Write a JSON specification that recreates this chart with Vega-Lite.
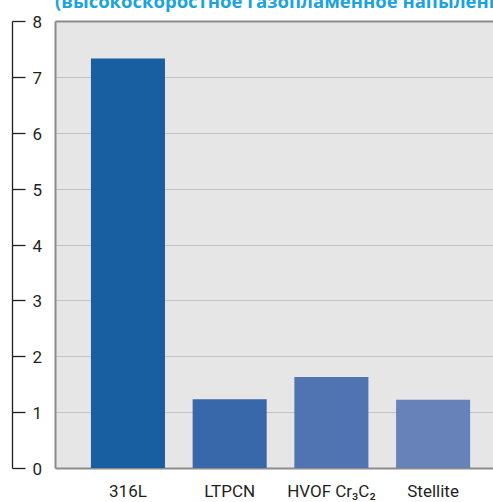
{
  "$schema": "https://vega.github.io/schema/vega-lite/v6.json",
  "width": 438,
  "height": 447,
  "autosize": {"type": "none"},
  "padding": {"left": 55, "top": 21, "right": 0, "bottom": 34},
  "background": "#ffffff",
  "title": {
    "text": "(высокоскоростное газопламенное напыление)",
    "anchor": "start",
    "frame": "group",
    "orient": "top",
    "font": "Open Sans",
    "fontSize": 18.5,
    "fontWeight": "bold",
    "color": "#1aa3dc",
    "baseline": "alphabetic",
    "offset": -12.5
  },
  "config": {
    "view": {"fill": "#e6e6e6", "stroke": null},
    "font": "Roboto"
  },
  "data": {
    "values": [
      {"material": "316L", "rate": 7.33},
      {"material": "LTPCN", "rate": 1.23},
      {"material": "HVOF Cr₃C₂", "rate": 1.63},
      {"material": "Stellite", "rate": 1.22}
    ]
  },
  "encoding": {
    "x": {
      "field": "material",
      "type": "nominal",
      "sort": null,
      "scale": {"paddingInner": 0.272, "paddingOuter": 0.289, "align": 0.611}
    },
    "y": {
      "field": "rate",
      "type": "quantitative",
      "scale": {"domain": [0, 8], "nice": false}
    }
  },
  "layer": [
    {
      "mark": {"type": "bar", "opacity": 0},
      "encoding": {
        "x": {
          "field": "material",
          "type": "nominal",
          "sort": null,
          "axis": {"orient": "top", "labels": false, "ticks": false, "domain": true, "domainColor": "#8c8c8c", "domainWidth": 2, "title": null}
        },
        "y": {
          "field": "rate",
          "type": "quantitative",
          "axis": {"orient": "left", "labels": false, "ticks": false, "domain": true, "domainColor": "#8c8c8c", "domainWidth": 2, "grid": true, "gridColor": "#c2c2c2", "gridWidth": 1.2, "values": [1,2,3,4,5,6,7], "title": null}
        }
      }
    },
    {
      "mark": {"type": "bar"},
      "encoding": {
        "x": {
          "field": "material",
          "type": "nominal",
          "sort": null,
          "axis": {"orient": "bottom", "labelAngle": 0, "labelFontSize": 17, "labelColor": "#231f20", "labelPadding": 15, "ticks": false, "domain": true, "domainColor": "#8c8c8c", "domainWidth": 2, "title": null}
        },
        "y": {
          "field": "rate",
          "type": "quantitative",
          "axis": {"orient": "right", "offset": -481, "values": [0,1,2,3,4,5,6,7,8], "grid": false, "domainColor": "#231f20", "domainWidth": 1.3, "tickColor": "#231f20", "tickWidth": 1.3, "tickSize": 13, "labelPadding": 7, "labelFontSize": 17, "labelColor": "#231f20", "labelOffset": 1.5, "title": null}
        },
        "color": {
          "field": "material",
          "type": "nominal",
          "sort": null,
          "scale": {"domain": ["316L", "LTPCN", "HVOF Cr₃C₂", "Stellite"], "range": ["#175fa1", "#3868aa", "#4f74b1", "#6682b9"]},
          "legend": null
        }
      }
    }
  ],
  "resolve": {"axis": {"x": "independent", "y": "independent"}}
}
